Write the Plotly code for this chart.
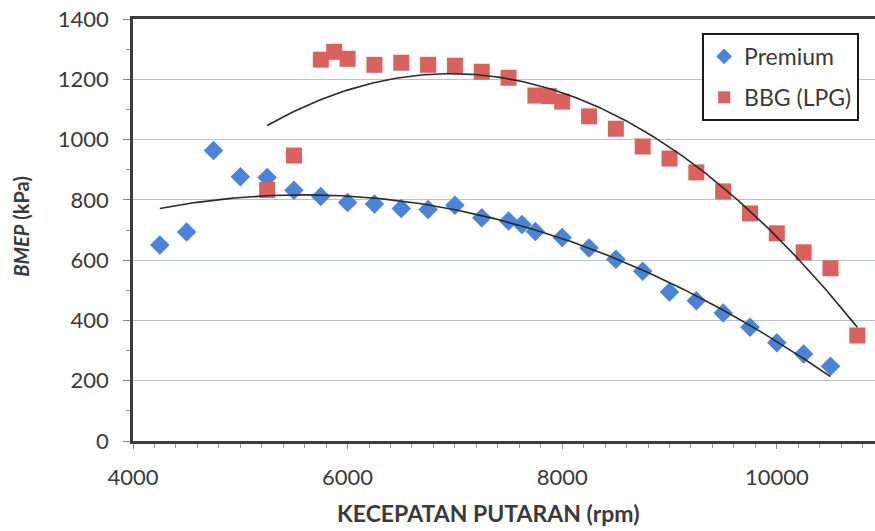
import numpy as np
import plotly.graph_objects as go

# Engine speed (rpm) and brake mean effective pressure (kPa)
premium_rpm = [4250, 4500, 4750, 5000, 5250, 5500, 5750, 6000, 6250, 6500, 6750, 7000,
               7250, 7500, 7625, 7750, 8000, 8250, 8500, 8750, 9000, 9250, 9500, 9750,
               10000, 10250, 10500]
premium_bmep = [650, 693, 964, 877, 874, 832, 811, 791, 786, 771, 768, 782,
                741, 730, 718, 695, 675, 640, 603, 563, 494, 465, 425, 377,
                326, 289, 248]

lpg_rpm = [5250, 5500, 5750, 5875, 6000, 6250, 6500, 6750, 7000, 7250, 7500, 7750,
           7875, 8000, 8250, 8500, 8750, 9000, 9250, 9500, 9750, 10000, 10250, 10500,
           10750]
lpg_bmep = [833, 947, 1265, 1291, 1268, 1248, 1255, 1248, 1245, 1225, 1205, 1146,
            1144, 1126, 1077, 1036, 977, 937, 891, 828, 755, 689, 626, 573,
            350]

x_ticks = [4000, 6000, 8000, 10000]
y_ticks = [0, 200, 400, 600, 800, 1000, 1200, 1400]

FONT = "Lato"
TEXT = "#3a3a3a"


def poly_trend(x, y, order=2, n=200):
    """Least-squares polynomial trendline over the span of the data."""
    xa = np.asarray(x, dtype=float) / 1000.0
    coef = np.polyfit(xa, y, order)
    xs = np.linspace(xa.min(), xa.max(), n)
    return xs * 1000.0, np.polyval(coef, xs)


fig = go.Figure()

fig.add_trace(go.Scatter(
    x=premium_rpm, y=premium_bmep, mode="markers", name="Premium",
    legendgroup="a",
    marker=dict(symbol="diamond", size=15, color="#4a84d8"),
))
fig.add_trace(go.Scatter(
    x=lpg_rpm, y=lpg_bmep, mode="markers", name="BBG (LPG)",
    legendgroup="b",
    marker=dict(symbol="square", size=16, color="#d9625f"),
))

for xs_src, ys_src in [(premium_rpm, premium_bmep), (lpg_rpm, lpg_bmep)]:
    tx, ty = poly_trend(xs_src, ys_src)
    fig.add_trace(go.Scatter(
        x=tx, y=ty, mode="lines", showlegend=False, hoverinfo="skip",
        line=dict(color="#2a2a2a", width=1.6),
    ))

fig.update_layout(
    width=875, height=531,
    margin=dict(l=133, r=0, t=19, b=90),
    paper_bgcolor="white", plot_bgcolor="white",
    font=dict(family=FONT, color=TEXT),
    showlegend=True,
    legend=dict(
        x=0.767, y=0.967, xanchor="left", yanchor="top",
        bgcolor="white", bordercolor="#1a1a1a", borderwidth=2,
        font=dict(family=FONT, size=23, color=TEXT),
        tracegroupgap=8, itemsizing="constant",
        entrywidth=125, entrywidthmode="pixels",
    ),
    xaxis=dict(
        range=[4000, 10915], tickvals=x_ticks, ticktext=[str(v) for v in x_ticks],
        showgrid=False, zeroline=False,
        showline=True, linecolor="#3c3c3c", linewidth=2.5, mirror=True,
        ticks="outside", ticklen=5, tickcolor="#888888",
        minor=dict(dtick=200, tick0=4000, ticks="outside", ticklen=4, tickcolor="#999999"),
        tickfont=dict(family=FONT, size=22, color=TEXT),
        ticklabelstandoff=10,
    ),
    yaxis=dict(
        range=[0, 1400], tickvals=y_ticks, ticktext=[str(v) for v in y_ticks],
        showgrid=True, gridcolor="#bcbfcc", gridwidth=1.3, zeroline=False,
        showline=True, linecolor="#3c3c3c", linewidth=2.5,
        ticks="outside", ticklen=7, tickcolor="#888888",
        minor=dict(dtick=100, ticks="outside", ticklen=4, tickcolor="#999999", showgrid=False),
        tickfont=dict(family=FONT, size=22, color=TEXT),
        ticklabelstandoff=10,
    ),
    annotations=[
        dict(text="<b>KECEPATAN PUTARAN (rpm)</b>", xref="paper", yref="paper",
             x=(488 - 133) / 742, y=-0.171, xanchor="center", yanchor="middle",
             showarrow=False, font=dict(family=FONT, size=23, color=TEXT)),
        dict(text="<b><i>BMEP</i> (kPa)</b>", xref="paper", yref="paper",
             x=-0.151, y=0.51, xanchor="center", yanchor="middle", textangle=-90,
             showarrow=False, font=dict(family=FONT, size=20, color=TEXT)),
    ],
)

fig.write_html("out.html")
